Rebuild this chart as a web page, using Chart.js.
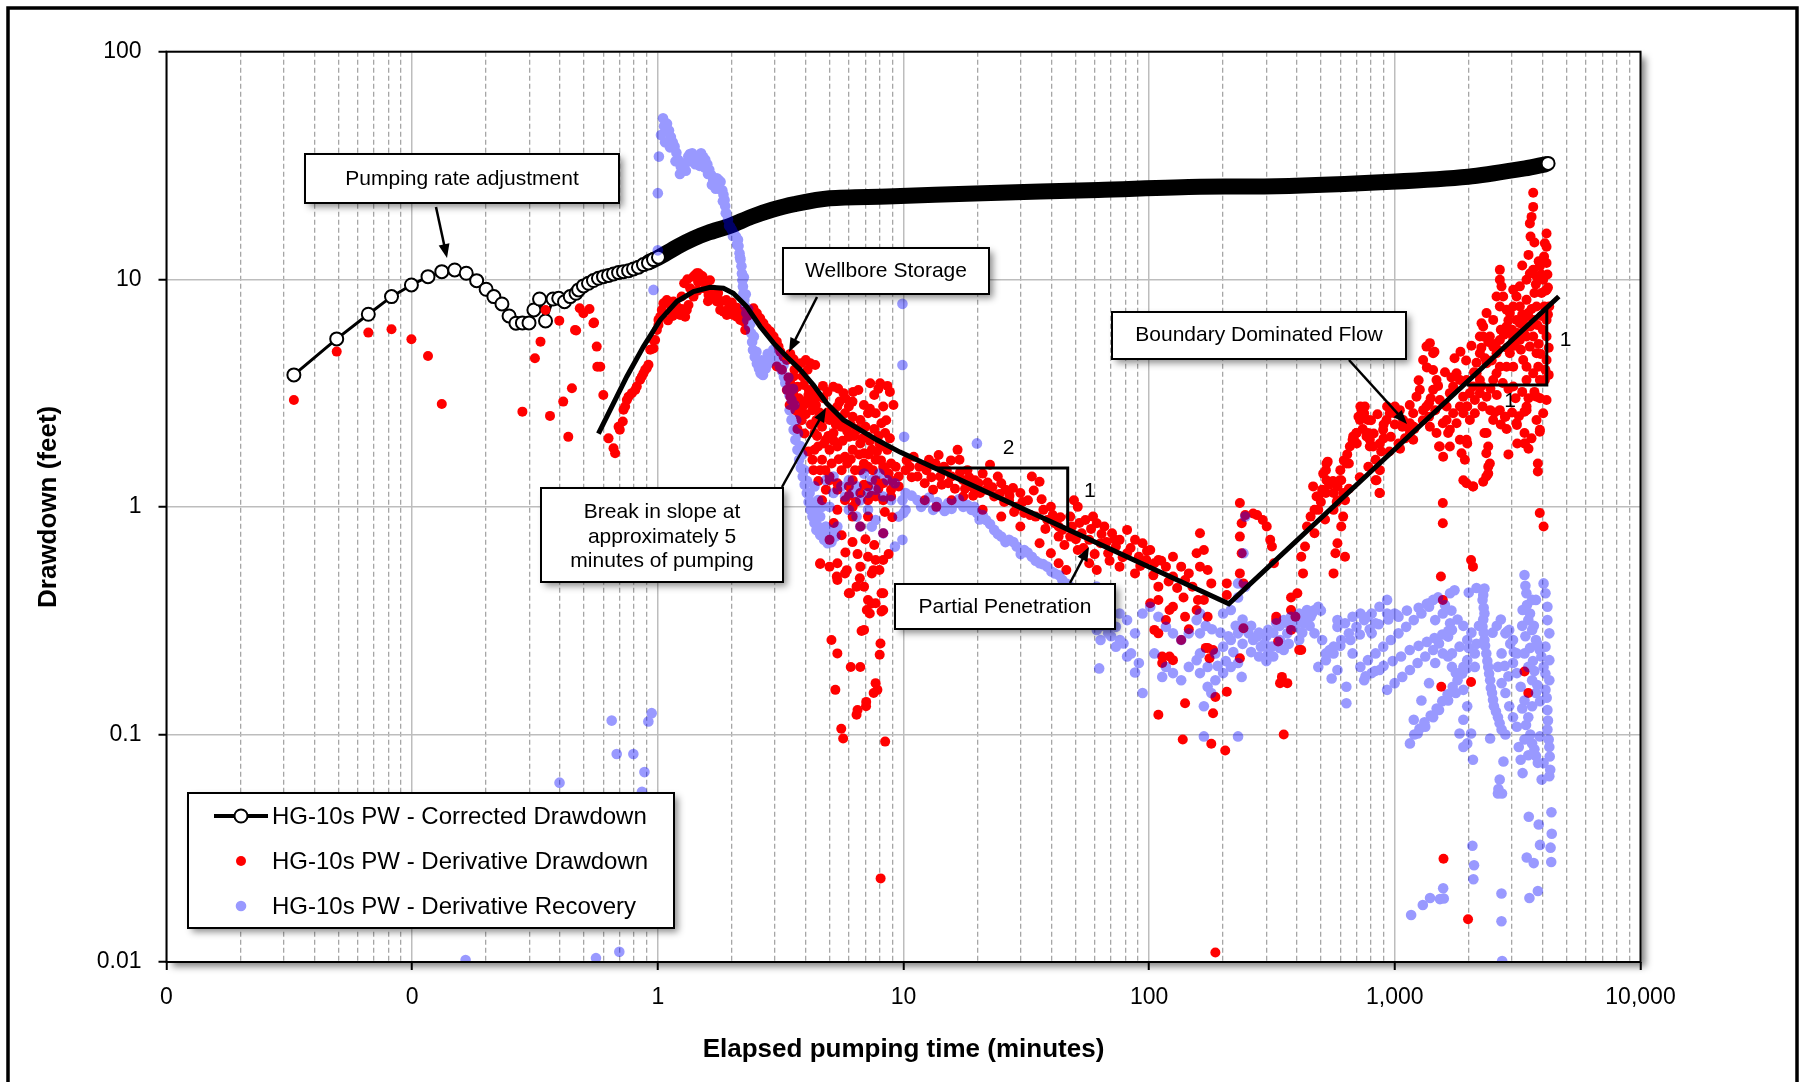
<!DOCTYPE html>
<html>
<head>
<meta charset="utf-8">
<script src="https://cdn.jsdelivr.net/npm/chart.js@4.4.1/dist/chart.umd.min.js"></script>
<style>html,body{margin:0;padding:0;background:#fff}canvas{display:block}</style>
</head>
<body>
<canvas id="chart" width="1800" height="1082"></canvas>
<script>
const FONT = '"Liberation Sans", Arial, sans-serif'

// axis ticks
const xMajor = [0.01, 0.1, 1, 10, 100, 1000, 10000]
const xMajorLabels = ['0', '0', '1', '10', '100', '1,000', '10,000']
const yMajor = [0.01, 0.1, 1, 10, 100]
const yMajorLabels = ['0.01', '0.1', '1', '10', '100']
const seriesNames = ['HG-10s PW - Corrected Drawdown', 'HG-10s PW - Derivative Drawdown', 'HG-10s PW - Derivative Recovery']

// [minutes, feet]
const corrected = [
  [0.033,3.80],[0.0493,5.47],[0.0663,7.02],[0.0824,8.39],[0.0993,9.44],[0.116,10.27],[0.132,10.8],[0.149,10.99],
  [0.166,10.63],[0.183,9.86],[0.200,9.04],[0.215,8.39],[0.232,7.79],[0.248,6.90],[0.2645,6.41],[0.281,6.43],
  [0.299,6.43],[0.313,7.33],[0.330,8.19],[0.349,6.56],[0.3745,8.19],[0.395,8.25],[0.417,7.97],[0.44,8.39],
  [0.4645,8.68],[0.476,8.98],[0.498,9.35],[0.522,9.6],[0.547,9.87],[0.573,10.1],[0.601,10.27],[0.63,10.4],
  [0.66,10.55],[0.692,10.7],[0.725,10.8],[0.76,10.9],[0.796,11.1],[0.834,11.3],[0.874,11.6],[0.916,11.8],
  [0.96,12.2],[1.006,12.5],[2,null],[4206,32.3]
]
// densely sampled part of the corrected drawdown (thousands of overlapping markers)
const correctedDense = [
  [0.92,11.9],[1.0,12.4],[1.2,13.9],[1.4,15.1],[1.6,16.0],[1.97,17.2],[2.4,18.8],[2.92,20.2],[3.6,21.4],
  [5.0,22.7],[8.57,23.1],[21,23.9],[62,24.7],[161,25.5],[330,25.6],[968,26.8],[1987,28.2],[3390,30.7],[4100,32.0]
]
const derivDrawdown = [
  [0.033,2.95],[0.0493,4.81],[0.0663,5.83],[0.0824,6.03],[0.0993,5.45],[0.116,4.6],[0.132,2.83],[0.281,2.62],
  [0.316,4.5],[0.333,5.32],[0.349,7.33],[0.364,2.51],[0.397,6.58],[0.412,2.9],[0.432,2.03],[0.447,3.32],[0.46,5.99],
  [0.465,5.95],[0.481,7.46],[0.498,7.09],[0.527,7.4],[0.547,6.41],[0.55,6.45],[0.564,5.06],[0.567,4.13],[0.583,4.13],[0.60,3.10],
  [0.63,2.0],[0.66,1.81],[0.67,1.72],[0.70,2.18],[0.72,2.37],[0.736,2.76],[0.76,3.05],[0.784,3.16],[0.821,3.38],
  [0.847,3.62],[0.874,3.86],[0.902,4.07],[0.916,4.21],[0.931,4.9],[0.96,5.41],[0.991,5.99],[1.006,6.63],[1.038,7.33],
  [1.054,7.85],[1.088,8.11],[1.123,7.71],[1.158,7.98],[1.195,7.58],[1.176,7.09],[1.233,6.97],[1.292,6.85],[1.312,7.33],
  [1.354,9.13],[1.375,8.68],[1.397,10.27],[1.441,10.63],[1.487,10.45],[1.534,9.93],[1.583,9.44],[1.608,8.53],[1.659,8.39],
  [1.712,8.25],[1.738,7.98],[1.794,7.33],[1.851,7.21],[1.909,6.97],[1.97,7.21],[2.033,6.97],[2.097,6.85],[2.164,6.63],
  [2.233,6.52],[2.268,5.99],[0.692,2.25],[0.725,2.67],[0.748,2.95],[0.809,3.26],[0.861,3.74],[0.888,4.0],[0.96,4.97],
  [0.975,5.41],[1.006,6.3],[1.022,6.85],[1.088,7.98],[1.333,7.71],[1.397,8.39],[1.418,10.45],[1.464,10.63],[1.738,8.39],[1.88,7.21],
  [1.25,8.4],[1.28,9.6],[1.32,10.0],[1.46,9.7],[1.52,10.3],[1.56,9.1],[1.63,9.9],[1.68,9.0],[1.76,8.7],[1.82,8.0],[1.95,7.6],
  [2.1,7.5],[2.2,7.2],[2.32,6.9],[1.1,6.6],[1.15,6.9],[1.25,7.4],[1.45,8.9],[1.6,8.0],[1.9,8.1],[2.0,7.9],
  [2.45,7.46],[2.53,7.09],[2.61,6.74],[2.69,6.41],[2.78,6.09],[2.87,5.89],[2.96,5.6],[3.05,5.32],[3.10,5.06],[3.15,4.81],
  [3.25,4.57],[3.35,4.42],[3.46,4.7],[3.57,4.45],[3.20,4.0],[3.05,4.14],[3.46,3.49],[3.57,3.74],[3.35,3.26],[3.46,3.05],
  [3.57,2.85],[3.70,2.67],[3.82,2.49],[3.82,4.28],[4.0,4.42],[4.17,4.28],[4.37,4.2],[4.07,4.0],[3.88,3.74],[3.70,3.37],
  [3.93,3.43],[4.12,3.26],[4.3,3.16],[4.5,3.05],[4.72,3.0],[5.18,3.37],[5.42,3.31],[5.7,3.16],[6.24,3.2],[6.55,3.26],
  [7.32,3.49],[8.03,3.49],
  [3.44,2.80],[3.63,2.66],[3.76,2.58],[3.89,2.76],[4.04,2.85],[4.26,2.66],[4.42,2.41],[4.34,2.11],[4.66,2.25],[5.0,2.41],
  [5.19,2.66],[5.38,2.76],[5.78,2.58],[5.99,2.76],[6.21,2.49],[6.67,2.41],[7.17,2.58],[7.7,2.58],[8.27,2.76],[8.13,2.33],
  [8.42,2.11],[7.98,1.90],[7.17,2.03],[6.67,1.90],[6.21,1.78],[5.78,1.66],[5.38,1.84],[5.0,1.78],[4.66,1.61],[4.58,1.45],
  [5.0,1.36],[5.38,1.27],[4.83,1.19],[4.66,1.07],[5.78,1.07],[6.21,1.0],[7.17,1.07],[7.7,1.11],[8.27,1.07],[8.9,1.11],
  [9.56,1.23],[10.2,1.45],[8.27,1.50],[7.17,1.50],[6.67,1.45],[6.21,1.31],[5.0,0.716],[5.38,0.565],[5.78,0.51],[5.38,0.477],
  [5.99,0.417],[6.67,0.546],[7.17,0.604],[7.7,0.584],[8.27,0.584],[6.91,0.446],[7.43,0.51],[7.98,0.528],[7.17,0.39],
  [7.7,0.377],[8.27,0.417],[8.27,0.352],[7.29,0.34],[6.91,0.288],[5.09,0.26],[5.38,0.227],[6.1,0.198],[6.67,0.198],
  [5.28,0.157],[7.7,0.168],[7.83,0.157],[7.56,0.152],[7.04,0.133],[6.44,0.122],[5.58,0.106],[5.68,0.096],[8.42,0.093],
  [5.0,0.546],[4.58,0.565],[8.07,0.0233],
  [5.0,1.31],[5.38,1.19],[5.99,1.23],[6.67,1.15],[7.17,1.23],[7.7,1.31],[8.27,1.27],[8.9,1.19],[6.21,0.906],[7.17,0.906],
  [8.27,0.765],[6.67,0.819],[5.38,0.97],[4.49,1.84],[4.83,1.97],[5.19,2.11],[5.58,2.25],[5.99,2.03],[6.44,2.18],[6.91,1.72],
  [7.43,1.78],[7.7,1.61],[8.59,1.78],[8.9,1.55],[9.56,1.36],[4.26,1.61],[4.34,1.78],
  [6.75,0.285],[8.06,0.251],[8.0,0.224],[6.5,0.128],[7.05,0.139],[4.58,0.561],[5.35,0.494],[5.88,0.527],[6.06,0.417],
  [6.44,0.446],[6.64,0.486],[7.09,0.352],[7.42,0.376],[7.54,0.527],[8.14,0.417],[8.14,0.347],
  [3.6,3.3],[3.75,3.0],[3.9,2.9],[4.1,3.1],[4.25,2.95],[4.4,2.8],[4.55,2.6],[4.7,2.45],[4.9,2.6],[5.1,2.5],[5.3,2.3],[5.5,2.45],
  [5.7,2.3],[5.9,2.15],[6.1,2.3],[6.3,2.05],[6.5,2.2],[6.8,2.0],[7.0,2.25],[7.3,1.95],[7.6,2.2],[7.9,2.05],[8.2,1.85],[8.5,2.4],
  [8.8,2.0],[4.2,2.3],[4.45,2.05],[4.75,1.9],[4.95,2.05],[5.2,1.95],[5.45,1.62],[5.65,1.95],[5.9,1.55],[6.1,1.62],[6.35,1.45],
  [6.6,1.7],[6.9,1.55],[7.2,1.7],[7.5,1.45],[7.8,1.75],[8.1,1.6],[8.4,1.45],[8.7,1.4],[9.0,1.3],[9.3,1.5],[4.3,1.45],[4.5,1.3],
  [4.8,1.45],[5.1,1.55],[5.6,1.45],[6.0,1.12],[6.4,1.05],[6.9,1.25],[7.4,1.12],[7.9,1.2],[8.4,0.95],[9.0,0.9],[4.1,1.75],
  [3.95,2.1],[3.85,2.4],[3.7,2.2],[4.0,2.55],[3.55,3.15],[8.6,3.4],[8.8,3.2],[9.1,2.8],[7.6,3.1],[7.9,3.3],[6.9,2.8],[7.3,2.7],
  [6.2,2.9],[5.8,3.0],[5.5,2.9],[4.9,3.2],[3.4,3.7],[3.6,4.0],[4.7,3.4],[5.2,0.85],[5.6,0.75],[6.2,0.7],[7.0,0.72],[7.6,0.68],
  [8.7,0.62],[6.5,0.62],[5.8,0.63],
  [10.6,1.50],[11.4,1.36],[12.2,1.27],[13.2,1.19],[13.9,1.69],[14.6,1.50],[15.7,1.36],[16.6,1.78],[16.9,1.61],[18.2,1.45],
  [19.5,1.31],[21.0,1.40],[22.5,1.53],[24.2,1.36],[25.0,1.27],[26.0,1.19],[27.9,1.21],[29.9,1.15],[32.1,1.07],[33.3,1.36],
  [35.8,1.29],[37.1,0.97],[39.8,1.0],[41.3,0.847],[44.3,0.792],[47.7,0.906],[49.4,1.07],[51.2,1.0],[55.0,0.876],[59.1,0.906],
  [61.2,0.847],[65.7,0.819],[70.6,0.765],[75.8,0.716],[81.3,0.792],[87.6,0.716],[94.0,0.692],[101,0.646],[109,0.584],
  [117,0.546],[125,0.604],[135,0.546],[145,0.51],[156,0.625],
  [12.2,1.07],[13.6,1.0],[15.7,1.07],[17.5,1.11],[19.5,1.15],[21.0,0.97],[25.0,0.906],[29.9,0.819],[35.8,0.692],[42.8,0.74],
  [39.8,0.625],[42.8,0.565],[46.0,0.528],[51.2,0.646],[57.0,0.565],[61.2,0.528],[68.1,0.625],[75.8,0.546],[87.6,0.51],
  [97.4,0.584],[109,0.446],[125,0.364],[140,0.329],[156,0.352],[117,0.318],[109,0.278],[113,0.22],[121,0.22],[140,0.137],
  [109,0.122],[137,0.095],[101,0.377],[105,0.288],
  [11.0,1.66],[12.7,1.61],[14.1,1.36],[15.2,1.27],[17.5,1.31],[18.9,1.23],[20.2,1.27],[21.7,1.19],[23.4,1.11],[26.9,1.07],
  [28.9,1.0],[31.0,0.94],[34.5,0.906],[38.5,0.876],[42.8,0.819],[47.7,0.74],[53.1,0.765],[57.0,0.716],[63.4,0.692],
  [73.2,0.669],[81.3,0.625],[90.8,0.604],[105,0.565],[125,0.494],[140,0.477],[150,0.446],[158,0.39],
  [10.3,1.6],[10.8,1.35],[11.6,1.5],[12.4,1.45],[13.0,1.35],[13.5,1.55],[14.3,1.25],[15.0,1.45],[15.6,1.6],[16.2,1.2],
  [17.0,1.42],[17.8,1.2],[18.5,1.35],[19.2,1.12],[20.5,1.15],[22.0,1.28],[23.0,1.22],[24.6,1.14],[25.7,1.05],[27.0,1.12],
  [28.2,0.95],[30.5,1.05],[32.8,0.92],[33.9,1.18],[36.5,1.08],[37.8,0.8],[40.5,0.92],[43.5,0.9],[45.2,0.68],[48.5,0.82],
  [50.3,0.72],[52.0,0.85],[54.0,0.66],[58.0,0.8],[60.0,0.62],[64.0,0.76],[67.0,0.7],[69.0,0.58],[72.0,0.72],[78.0,0.6],
  [84.0,0.66],[92.0,0.55],[98.0,0.64],[104,0.5],[112,0.58],[120,0.47],[130,0.44],[138,0.4],
  [109,0.39],[121,0.352],[135,0.26],[113,0.206],[125,0.212],[145,0.29],
  [161,0.765],[167,0.646],[173,0.528],[179,0.461],[167,0.39],[173,0.329],[182,0.235],[186,0.146],[182,0.124],[179,0.091],
  [204,0.085],[207,0.461],[207,0.41],[173,0.24],[161,0.546],[186,0.011],
  [234,1.04],[238,0.847],[246,0.92],[265,0.935],[275,0.92],[290,0.876],[301,0.819],[311,0.716],[316,0.669],[234,0.74],
  [238,0.625],[234,0.51],[242,0.461],[322,0.565],[329,0.329],[347,0.179],[341,0.168],[365,0.168],[353,0.1],[378,0.352],
  [394,0.329],[408,0.235],[378,0.40],[401,0.417],[329,0.318],
  [416,0.604],[423,0.51],[431,0.669],[439,0.819],[454,0.906],[471,0.97],[488,1.11],[506,1.19],[524,1.45],[533,1.58],
  [563,0.51],[573,0.625],[584,0.692],[605,0.819],[616,0.906],[627,1.07],[627,0.604],[584,1.23],[605,1.31],[650,1.55],
  [673,1.97],[698,2.11],[711,2.49],[724,2.76],[750,2.58],[777,2.41],[777,2.11],[791,1.84],[835,1.61],[835,1.31],[866,1.15],
  [524,1.15],[488,0.97],[471,0.765],[563,0.97],[563,1.15],[584,1.07],
  [560,1.3],[600,1.45],[640,1.7],[700,1.9],[740,2.2],[800,2.4],[850,2.55],[900,2.3],[500,1.05],[540,1.25],[620,1.6],
  [680,2.0],[820,2.1],[880,1.75],[520,0.88],[580,1.05],[650,1.2],[720,1.35],[780,1.5],
  [242,0.293],[378,0.288],[335,0.256],[170,0.24],[176,0.216],[207,0.154],[234,0.216],[3371,0.189],[3494,0.152],[416,0.235],
  [930,2.76],[998,2.58],[1072,2.25],[1152,2.11],[963,2.03],[1035,1.90],[1194,2.25],[1378,2.49],[1460,2.66],[1568,2.33],
  [1648,2.11],[1513,1.84],[1378,2.85],[1971,2.76],[2117,2.58],[2275,2.76],[2443,2.66],[2316,2.11],[2357,1.72],[2400,1.50],
  [2357,1.36],[1971,1.90],[1901,1.31],[2080,1.23],[1568,1.04],[1568,0.847],[1540,0.494],[1568,0.39],[2043,0.584],[2080,0.546],
  [1545,0.162],[2043,0.17],[2819,2.49],[3139,2.29],[3371,2.62],[3371,1.90],[3890,2.14],[3821,1.55],[3821,1.43],[3890,0.94],
  [4032,0.82],[3371,2.11],[1578,0.0284],[1986,0.0154],
  [465,1.23],[480,1.11],[511,1.40],[527,1.55],[527,1.31],[597,1.31],[616,1.15],[636,1.55],[656,1.84],[677,2.04],[698,2.11],
  [732,2.66],[755,2.76],[721,2.41],[767,2.04],[791,1.97],[816,1.84],[869,1.90],[869,1.45],[842,1.31],[869,1.15],[896,2.18],
  [925,2.41],[954,2.58],[1000,2.76],[1048,2.66],[1081,2.41],[1115,2.25],[1151,2.33],[1188,1.97],[1188,2.58],[1225,3.05],
  [1264,3.27],[1304,2.66],[1345,2.76],[1304,4.42],[1345,5.06],[1389,5.24],[1432,4.73],[1432,3.99],[1478,3.61],[1432,3.27],
  [1389,2.25],[1478,2.11],[1524,1.84],[1573,1.66],[1524,2.95],[1624,2.76],[1675,3.16],[1728,3.38],[1783,3.86],[1840,3.61],
  [1898,3.05],[1898,2.58],[1958,2.76],[2020,2.41],[1958,1.97],[1958,1.27],[2084,1.23],[2020,3.16],[2084,3.38],[2151,3.86],
  [2219,4.73],[2219,5.6],[2289,6.2],[2254,6.41],[2362,7.10],[2437,5.6],[2514,5.06],[2594,4.73],[2676,5.41],[2676,7.59],
  [2676,9.95],[2676,11.0],[2761,8.4],[2849,6.2],[2939,7.10],[3033,9.0],[3129,8.4],[3228,9.31],[3228,7.59],[3331,6.63],
  [3436,8.12],[3436,9.95],[3546,10.6],[3658,11.0],[3774,10.3],[3894,11.4],[4017,9.95],[4145,11.8],[4145,13.9],[4145,15.9],
  [4080,14.4],[3658,24.0],[3658,20.8],[3602,18.8],[3546,17.6],[3568,15.4],[4250,7.59],[4145,6.63],[4145,5.6],[4145,4.42],
  [4080,3.61],[4145,2.95],[4017,2.58],[3894,2.18],[3774,2.41],[3436,2.76],[3436,2.66],[3129,2.33],[3383,1.90],[2805,2.49],
  [2676,2.66],[2514,2.41],[2362,2.11],[2400,1.84],[2437,1.55],[2400,1.40],[2289,1.29],[3436,3.61],[3033,3.38],[3033,4.13],
  [2939,4.73],[2676,4.13],[2514,3.61],[2362,3.05],[2219,3.61],[3658,5.6],[3774,4.73],[3834,4.13],[3894,3.61],[3658,6.63],
  [3546,5.06],[3228,5.41],[3033,5.41],[2849,4.13],[2594,3.86],[3129,6.63],[2939,5.79],[3331,4.42],[3436,4.13],[3774,7.59],
  [3955,6.9],[3955,8.7],[3436,5.6],[3491,7.10],[3658,3.86],[3774,3.05],[2289,5.6],[2362,4.28],[2514,6.63],[2594,8.4],
  [2718,9.31],[2849,7.35],[3033,7.59],[3228,6.41],[3331,5.79],[2219,3.16],[2117,2.95],[1958,3.61],[1840,2.76],[1728,2.58],
  [1624,2.41],[1675,2.18],[1783,2.33],[1675,1.84],[1840,1.97],[1869,1.72],[1928,1.61],
  [2150,4.3],[2250,5.0],[2330,4.5],[2400,5.3],[2480,4.4],[2560,5.2],[2630,4.9],[2700,6.0],[2780,5.7],[2860,5.0],[2900,6.6],
  [3000,6.0],[3080,5.1],[3150,5.8],[3260,4.9],[3300,7.0],[3380,6.1],[3480,6.9],[3560,6.2],[3600,7.4],[3700,8.7],[3800,6.3],
  [3850,5.2],[3920,4.7],[4000,6.0],[4060,7.6],[4100,8.9],[4180,10.5],[4200,9.2],[2250,3.4],[2450,3.3],[2600,3.1],[2750,3.5],
  [2900,3.3],[3100,3.0],[3300,3.2],[3500,3.0],[3700,3.2],[3900,3.0],[2550,2.6],[2700,2.3],[2850,2.2],[3000,2.6],[3200,2.5],
  [1750,4.5],[1850,4.8],[1950,4.4],[2050,5.1],[2100,3.9],[1600,3.9],[1700,3.7],[1500,3.4],[1400,3.0],[1300,2.4],[1200,2.2],
  [1100,2.0],[1050,1.8],[950,1.75],[900,2.0],[1000,2.3],[1150,2.8],[1250,3.6],[1350,4.1],[1450,4.8],[3300,11.5],[3500,12.8],
  [3700,14.5],[3750,9.5],[3850,12.0],[3950,10.5],[4050,12.6],[4150,9.0],[4200,7.0],[4230,5.0],[4230,3.8],[4100,4.0],
  [3600,2.0],[3500,1.8],[3150,1.9],[2900,1.7]
]
const derivRecovery = [
  [0.165,0.0102],[0.56,0.0104],[0.697,0.0111],[0.398,0.0614],[0.862,0.056],[0.649,0.115],[0.915,0.114],[0.944,0.124],
  [0.68,0.082],[0.795,0.082],[0.882,0.0683],[1.0,13.4],[0.96,8.98],[9.9,7.8],[9.9,4.2],[10.06,2.03],[19.9,1.90],
  [1.05,51],[1.09,48.3],[1.03,43.0],[1.01,34.6],[1.0,23.9],[1.13,42.2],[1.17,38.3],[1.21,33.5],[1.24,31.3],[1.28,30.3],
  [1.33,34.6],[1.38,35.8],[1.45,33.5],[1.50,35.8],[1.56,33.5],[1.62,30.3],[1.68,27.3],[1.74,27.8],[1.80,26.8],[1.83,24.6],
  [1.87,22.3],[1.90,19.5],[1.97,17.0],[2.04,15.9],[2.12,14.9],[2.15,13.0],[2.19,11.4],[2.21,9.9],[2.23,8.67],[2.27,7.6],
  [2.31,6.6],[2.40,5.79],[2.44,4.89],[2.53,4.27],[2.62,3.86],[2.82,4.27],[3.03,4.57],[3.14,4.13],[3.26,3.73],[3.37,3.26],[3.50,2.95],
  [1.06,47],[1.11,45],[1.15,40],[1.19,36],[1.26,31],[1.30,32.5],[1.35,35.5],[1.41,34.5],[1.47,34.8],[1.53,34.5],[1.59,32],
  [1.65,28.7],[1.71,27.5],[1.77,27.3],[1.85,23.5],[1.88,21],[1.93,18.3],[2.0,16.5],[2.08,15.4],[2.13,14],[2.17,12.2],
  [2.20,10.6],[2.22,9.3],[2.25,8.1],[2.29,7.1],[2.35,6.2],[2.42,5.3],[2.48,4.55],[2.58,4.05],[2.7,4.0],[2.92,4.4],[3.08,4.35],
  [3.2,3.95],[3.3,3.5],[3.43,3.1],[2.68,3.8],[2.75,4.05],
  [1.07,40],[1.12,38],[1.18,33],[1.23,29],[1.3,30],[1.36,33],[1.42,32],[1.48,31.5],[1.55,31],[1.6,29],[1.66,26],[1.72,25],
  [1.78,25],[1.84,22],[1.89,19.5],[1.95,17.2],[2.02,15.5],[2.1,14.2],[2.16,12.5],[2.24,10.2],[2.28,8.6],[2.33,7.4],[2.38,6.4],
  [2.46,5.6],[2.52,4.8],[2.64,4.4],[2.8,4.7],[2.95,4.9],[3.1,4.7],[3.25,4.2],[3.4,3.7],[3.55,3.3],[3.6,2.8],[3.66,2.4],
  [3.72,2.1],[3.8,1.85],[3.87,1.7],[3.95,1.45],[4.05,1.3],[4.15,1.15],[4.22,1.05],[4.3,0.97],[4.4,0.88],[4.5,0.82],[4.62,0.78],
  [4.7,0.8],[4.85,0.75],[5.0,0.74],[5.15,0.76],
  [3.44,2.66],[3.57,2.18],[3.63,1.97],[3.70,1.78],[3.76,1.61],[3.82,1.48],[3.89,1.36],[3.96,1.25],[4.04,1.15],[4.11,1.05],
  [4.18,0.97],[4.26,0.906],[4.34,0.85],[4.42,0.792],[4.58,0.752],[4.75,0.716],[4.91,0.692],[5.09,0.70],[5.28,0.74],[4.42,0.97],
  [4.58,0.906],[4.83,0.819],[4.49,1.07],[4.34,1.23],[4.66,1.0],[5.0,0.792],[5.38,0.819],[5.0,1.0],[5.19,1.15],[3.50,2.41],
  [4.83,1.31],[5.19,1.36],[5.58,1.23],[5.99,1.31],[6.44,1.23],[6.91,1.40],[7.43,1.31],[7.98,1.40],[8.59,1.31],[9.23,1.27],
  [5.78,1.11],[6.21,1.15],[6.67,1.07],[7.17,1.15],[7.7,1.19],[8.27,1.11],[8.9,1.07],[5.99,0.97],[6.44,0.906],[7.17,0.97],
  [7.7,0.876],[8.27,0.765],[6.67,0.819],[7.43,0.819],[9.9,1.07],[10.2,0.97],[9.56,0.906],[10,0.94],[9.23,0.669],[9.9,0.716],[10.2,1.15],
  [11.4,1.07],[12.2,1.04],[13.2,0.97],[14.1,1.0],[15.2,1.04],[16.3,1.04],[17.5,1.0],[18.9,0.97],[19.9,0.94],[21.0,0.92],
  [21.7,0.876],[23.4,0.792],[25.0,0.74],[26.9,0.716],[28.9,0.669],[31.0,0.646],[33.3,0.604],[35.8,0.565],[38.5,0.546],
  [41.3,0.51],[44.3,0.477],[47.7,0.446],[51.2,0.417],[55.0,0.39],[59.1,0.34],[61.2,0.288],[63.4,0.26],[68.1,0.278],
  [73.2,0.243],[78.6,0.251],[84.4,0.227],[90.8,0.206],[94.0,0.152],[87.6,0.187],[62.6,0.195],
  [10.8,1.12],[11.8,1.0],[12.7,1.1],[13.7,1.05],[14.7,0.96],[15.7,0.98],[16.8,1.08],[18.2,1.02],[19.4,1.0],[20.4,0.88],
  [22.5,0.84],[24.2,0.76],[26,0.7],[28,0.7],[30,0.62],[32,0.63],[34.5,0.58],[37,0.56],[40,0.52],[43,0.5],[46,0.46],[49,0.43],
  [53,0.4],[57,0.37],[60,0.36],[65,0.3],[70,0.27],[76,0.26],
  [75.8,0.34],[81.3,0.318],[87.6,0.278],[94.0,0.34],[101,0.364],[109,0.329],[117,0.297],[125,0.278],[135,0.26],[145,0.278],
  [156,0.318],[105,0.227],[117,0.198],[125,0.186],[135,0.173],[145,0.198],[156,0.212],[113,0.179],[81.3,0.22],[73.2,0.297],
  [68.1,0.329],[61.2,0.446],
  [161,0.34],[161,0.278],[161,0.227],[161,0.186],[173,0.198],[186,0.227],[200,0.243],[215,0.26],[230,0.278],[246,0.297],
  [173,0.162],[186,0.173],[200,0.186],[215,0.198],[230,0.206],[238,0.179],[167,0.133],[179,0.152],[167,0.098],[230,0.098],
  [200,0.34],[215,0.352],[230,0.40],[246,0.446],[230,0.461],[242,0.625],[246,0.906],
  [170,0.3],[180,0.29],[195,0.28],[210,0.27],[225,0.3],[240,0.32],[260,0.3],[280,0.28],[300,0.27],[320,0.28],[340,0.3],
  [360,0.31],[380,0.3],[400,0.32],[430,0.33],[460,0.34],[500,0.35],[190,0.2],[205,0.21],[220,0.23],[240,0.25],[260,0.23],
  [280,0.22],[300,0.21],[320,0.22],[340,0.24],[370,0.25],[420,0.28],[450,0.3],
  [254,0.278],[275,0.269],[295,0.251],[316,0.243],[341,0.26],[365,0.278],[394,0.297],[423,0.308],[454,0.329],[471,0.352],
  [488,0.364],[265,0.26],[305,0.288],[329,0.308],[353,0.318],[378,0.329],[408,0.34],[439,0.352],[285,0.243],[305,0.227],
  [353,0.235],[408,0.26],[471,0.278],[506,0.26],[488,0.198],[524,0.212],[563,0.227],[553,0.176],[635,0.162],[635,0.137],[584,0.192],
  [524,0.227],[563,0.243],[605,0.26],[650,0.278],[698,0.297],[750,0.318],[805,0.34],[866,0.364],[930,0.39],[998,0.34],
  [1035,0.329],[584,0.297],[627,0.308],[673,0.329],[724,0.34],[777,0.329],[584,0.318],[724,0.198],[777,0.212],[835,0.227],
  [897,0.243],[963,0.26],[1035,0.278],[1112,0.297],[1194,0.318],[1283,0.34],[1378,0.364],[1432,0.39],[750,0.173],[805,0.186],
  [866,0.192],[930,0.157],[998,0.168],[1072,0.179],[1152,0.192],[1238,0.206],[1330,0.22],[1432,0.235],[1513,0.251],
  [1648,0.269],[1708,0.288],[1568,0.227],[1460,0.206],[1378,0.168],[1283,0.141],[1194,0.116],[1152,0.0913],[1238,0.101],
  [1330,0.108],[1432,0.119],[1513,0.128],[1648,0.141],[1771,0.152],[1901,0.157],[1771,0.186],[1901,0.198],[1708,0.227],
  [1834,0.243],[1971,0.26],[2117,0.227],[1460,0.318],[1568,0.34],[1678,0.308],[1378,0.377],[930,0.34],[835,0.308],[805,0.278],
  [543,0.235],[673,0.227],
  [540,0.23],[600,0.245],[660,0.26],[720,0.275],[790,0.29],[860,0.305],[940,0.32],[1020,0.335],[1120,0.35],[1250,0.36],
  [1350,0.375],[760,0.18],[830,0.19],[900,0.2],[980,0.21],[1060,0.22],[1150,0.235],[1250,0.245],[1350,0.255],[1450,0.265],
  [1560,0.275],[1650,0.285],[1200,0.1],[1260,0.106],[1320,0.113],[1400,0.121],[1480,0.13],[1560,0.14],[1640,0.15],
  [1720,0.162],[1800,0.173],[1880,0.185],[1960,0.195],
  [1678,0.417],[2316,0.438],[2275,0.39],[2316,0.34],[2275,0.297],[2316,0.26],[2357,0.227],[2400,0.198],[2443,0.173],
  [2487,0.152],[2531,0.133],[2629,0.119],[2720,0.105],[2819,0.10],[2043,0.101],[1971,0.0913],[2080,0.0774],[1901,0.088],
  [2443,0.096],[2768,0.076],[2672,0.0633],[2629,0.055],[2117,0.198],[1971,0.212],[1834,0.186],[2819,0.278],[2922,0.288],
  [3027,0.26],[3139,0.227],[2720,0.227],[2629,0.198],[2720,0.168],[2819,0.152],[2922,0.133],[3027,0.119],[3139,0.108],
  [3195,0.088],[3253,0.0774],[3312,0.0676],[3371,0.095],[3494,0.081],[3621,0.0913],[3753,0.0803],[3890,0.098],[3960,0.0633],
  [4255,0.0655],[4032,0.0748],[4255,0.088],[4179,0.105],[3371,0.502],[3432,0.417],[3621,0.39],[3753,0.39],[3312,0.352],
  [3494,0.318],[3621,0.288],[3753,0.26],[3890,0.235],[4032,0.198],[4105,0.157],[4179,0.128],[4032,0.461],[4105,0.417],
  [4179,0.364],[4179,0.318],[4255,0.278],[4105,0.243],[4255,0.212],[4255,0.173],[3371,0.227],[3494,0.198],[3621,0.173],
  [3753,0.152],[3621,0.133],[3494,0.119],[3371,0.141],[3253,0.162],[3139,0.186],[3027,0.206],[2870,0.283],[1971,0.133],
  [1901,0.116],[1834,0.101],[1648,0.22],[1708,0.198],
  [2290,0.41],[2300,0.36],[2290,0.32],[2300,0.28],[2330,0.245],[2380,0.21],[2420,0.185],[2460,0.16],[2510,0.142],[2580,0.126],
  [2670,0.112],[3400,0.45],[3450,0.37],[3550,0.34],[3680,0.3],[3800,0.25],[3950,0.22],[4100,0.185],[4150,0.145],[4200,0.115],
  [4230,0.095],[4270,0.08],[4290,0.07],[3300,0.3],[3400,0.27],[3550,0.24],[3650,0.21],[3700,0.19],[3800,0.165],[3900,0.14],
  [3300,0.13],[3420,0.11],[3560,0.1],[3700,0.086],[3820,0.075],[2950,0.25],[3050,0.23],[2800,0.2],[2900,0.18],[2700,0.32],
  [2600,0.3],[2500,0.28],[2000,0.24],[2150,0.25],[2050,0.28],[2200,0.3],[1900,0.3],[1800,0.32],[1700,0.35],[1600,0.37],
  [1500,0.4],[2000,0.42],[2150,0.44],[1750,0.43],
  [1165,0.0161],[1300,0.0178],[1391,0.0191],[1526,0.0189],[1573,0.0211],[1582,0.019],[2069,0.0324],[2101,0.0266],
  [2088,0.0231],[2717,0.02],[2717,0.0151],[2734,0.0101],[2640,0.0575],[2730,0.055],[3509,0.0435],[3852,0.0402],[3898,0.0327],
  [3443,0.0288],[3676,0.0272],[3822,0.0205],[3531,0.0191],[4339,0.0455],[4352,0.0366],[4305,0.0318],[4331,0.0275]
]
// interpreted flow-regime line and slope triangles
const fitCurve = [
  [0.573,2.1],[0.64,2.67],[0.748,3.74],[0.874,5.06],[1.022,6.63],[1.195,7.98],[1.397,8.83],[1.633,9.22],[1.85,9.13],
  [2.03,8.68],[2.30,7.58],[2.61,6.2],[2.96,5.24],[3.35,4.57],[3.80,4.0],[4.30,3.43],[4.87,2.85],[5.70,2.41],[6.66,2.18],
  [7.78,1.97],[9.68,1.74],[211,0.375],[4650,8.4]
]
const slopeHalf = [[13,1.48],[46.6,1.48],[46.6,0.80]]
const slopeUnit = [[1963,3.43],[4155,3.43],[4155,7.4]]
const slopeLabels = [['2',26.8,1.81],['1',57.4,1.166],['1',2946,2.90],['1',4955,5.41]]

const pts = a => a.map(p => ({x: p[0], y: p[1]}))
const xTicks = []
xMajor.forEach((d, i) => { xTicks.push(d); if (i < xMajor.length - 1) for (let m = 2; m < 10; m++) xTicks.push(+(d * m).toPrecision(3)) })
const isMajor = c => c.tick && xMajor.includes(c.tick.value)

// blue series is drawn as one layer then faded, like the spreadsheet's transparent markers
let offCanvas = null
const groupAlpha = {
  id: 'groupAlpha',
  beforeDatasetDraw(chart, args) {
    if (chart.data.datasets[args.index].layerAlpha === undefined) return
    offCanvas = document.createElement('canvas')
    offCanvas.width = chart.canvas.width; offCanvas.height = chart.canvas.height
    args.meta.controller._ctx = offCanvas.getContext('2d')
  },
  afterDatasetDraw(chart, args) {
    const ds = chart.data.datasets[args.index]
    if (ds.layerAlpha === undefined) return
    args.meta.controller._ctx = chart.ctx
    const a = chart.chartArea, ctx = chart.ctx, w = a.right - a.left, h = a.bottom - a.top
    ctx.save(); ctx.globalAlpha = ds.layerAlpha
    ctx.drawImage(offCanvas, a.left, a.top, w, h, a.left, a.top, w, h)
    ctx.restore()
  }
}

function shadowBox(ctx, x, y, w, h) {
  ctx.save()
  ctx.shadowColor = 'rgba(0,0,0,0.45)'; ctx.shadowBlur = 7; ctx.shadowOffsetX = 4; ctx.shadowOffsetY = 4
  ctx.fillStyle = '#fff'; ctx.fillRect(x, y, w, h)
  ctx.restore()
  ctx.lineWidth = 2; ctx.strokeStyle = '#000'; ctx.strokeRect(x, y, w, h)
}
function arrow(ctx, x1, y1, x2, y2) {
  const ang = Math.atan2(y2 - y1, x2 - x1), L = 14, W = 5.5
  ctx.save(); ctx.strokeStyle = '#000'; ctx.fillStyle = '#000'; ctx.lineWidth = 2.5
  ctx.beginPath(); ctx.moveTo(x1, y1); ctx.lineTo(x2 - Math.cos(ang) * L * 0.8, y2 - Math.sin(ang) * L * 0.8); ctx.stroke()
  ctx.beginPath(); ctx.moveTo(x2, y2)
  ctx.lineTo(x2 - Math.cos(ang) * L - Math.sin(ang) * W, y2 - Math.sin(ang) * L + Math.cos(ang) * W)
  ctx.lineTo(x2 - Math.cos(ang) * L + Math.sin(ang) * W, y2 - Math.sin(ang) * L - Math.cos(ang) * W)
  ctx.closePath(); ctx.fill(); ctx.restore()
}

const frame = {
  id: 'frame',
  beforeDraw(chart) {
    const {ctx, chartArea: a} = chart
    ctx.save()
    ctx.fillStyle = '#fff'; ctx.fillRect(0, 0, chart.width, chart.height)
    ctx.lineWidth = 3.5; ctx.strokeStyle = '#000'; ctx.strokeRect(8, 8, 1789, 1100)
    ctx.shadowColor = 'rgba(0,0,0,0.5)'; ctx.shadowBlur = 7; ctx.shadowOffsetX = 5; ctx.shadowOffsetY = 5
    ctx.fillStyle = '#fff'; ctx.fillRect(a.left, a.top, a.right - a.left, a.bottom - a.top)
    ctx.restore()
  },
  afterDatasetsDraw(chart) {
    const {ctx, chartArea: a} = chart
    ctx.save(); ctx.lineWidth = 2; ctx.strokeStyle = '#000'
    ctx.strokeRect(a.left, a.top, a.right - a.left, a.bottom - a.top)
    ctx.restore()
  },
  afterDraw(chart) {
    const ctx = chart.ctx, xs = chart.scales.x, ys = chart.scales.y
    ctx.save()
    ctx.font = '21px ' + FONT; ctx.fillStyle = '#000'; ctx.textAlign = 'center'; ctx.textBaseline = 'middle'
    slopeLabels.forEach(([t, x, y]) => ctx.fillText(t, xs.getPixelForValue(x), ys.getPixelForValue(y)))

    shadowBox(ctx, 305, 154, 314, 49); ctx.fillText('Pumping rate adjustment', 462, 179)
    arrow(ctx, 436, 207, 447, 258)
    shadowBox(ctx, 783, 248, 206, 46); ctx.fillText('Wellbore Storage', 886, 271)
    arrow(ctx, 817, 297, 789, 352)
    shadowBox(ctx, 1112, 312, 294, 47); ctx.fillText('Boundary Dominated Flow', 1259, 335)
    arrow(ctx, 1349, 360, 1407, 424)
    shadowBox(ctx, 541, 488, 242, 94)
    ctx.fillText('Break in slope at', 662, 512); ctx.fillText('approximately 5', 662, 537); ctx.fillText('minutes of pumping', 662, 561)
    arrow(ctx, 782, 487, 826, 408)
    shadowBox(ctx, 895, 584, 220, 45); ctx.fillText('Partial Penetration', 1005, 607)
    arrow(ctx, 1070, 583, 1089, 547)

    // legend
    shadowBox(ctx, 188, 793, 486, 135)
    ctx.textAlign = 'left'; ctx.font = '24px ' + FONT
    const rows = [816, 861, 906]
    ctx.lineWidth = 4; ctx.strokeStyle = '#000'
    ctx.beginPath(); ctx.moveTo(214, rows[0]); ctx.lineTo(268, rows[0]); ctx.stroke()
    ctx.beginPath(); ctx.arc(241, rows[0], 6.5, 0, Math.PI * 2); ctx.fillStyle = '#fff'; ctx.fill(); ctx.lineWidth = 2; ctx.stroke()
    ctx.fillStyle = '#ff0000'; ctx.beginPath(); ctx.arc(241, rows[1], 5, 0, Math.PI * 2); ctx.fill()
    ctx.fillStyle = '#9999ff'; ctx.beginPath(); ctx.arc(241, rows[2], 5.3, 0, Math.PI * 2); ctx.fill()
    ctx.fillStyle = '#000'
    seriesNames.forEach((n, i) => ctx.fillText(n, 272, rows[i] + 1))
    ctx.restore()
  }
}

new Chart(document.getElementById('chart'), {
  type: 'scatter',
  data: {
    datasets: [
      {label: seriesNames[0], data: pts(corrected), showLine: true, spanGaps: false, borderColor: '#000', borderWidth: 3,
        pointRadius: 6.5, pointBackgroundColor: '#fff', pointBorderColor: '#000', pointBorderWidth: 2, order: 6},
      {label: 'dense', data: pts(correctedDense), showLine: true, borderColor: '#000', borderWidth: 16, tension: 0.3,
        borderCapStyle: 'round', borderJoinStyle: 'round', pointRadius: 0, order: 7},
      {label: seriesNames[1], data: pts(derivDrawdown), backgroundColor: '#ff0000', pointRadius: 5, pointBorderWidth: 0, order: 4},
      {label: seriesNames[2], data: pts(derivRecovery), backgroundColor: '#0000ff', pointRadius: 5.3, pointBorderWidth: 0,
        layerAlpha: 0.4, order: 3},
      {label: 'fit', data: pts(fitCurve), showLine: true, borderColor: '#000', borderWidth: 5, pointRadius: 0, order: 2},
      {label: 'slope half', data: pts(slopeHalf), showLine: true, borderColor: '#000', borderWidth: 3, pointRadius: 0, order: 1},
      {label: 'slope unit', data: pts(slopeUnit), showLine: true, borderColor: '#000', borderWidth: 3, pointRadius: 0, order: 1}
    ]
  },
  options: {
    responsive: false, animation: false, devicePixelRatio: 1,
    layout: {padding: {left: 0, top: 51.7, right: 159.5, bottom: 0}},
    plugins: {legend: {display: false}, tooltip: {enabled: false}},
    scales: {
      x: {
        type: 'logarithmic', min: 0.01, max: 10000,
        afterBuildTicks: s => { s.ticks = xTicks.map(v => ({value: v, major: xMajor.includes(v)})) },
        afterFit: s => { s.height = 120 },
        ticks: {autoSkip: false, maxRotation: 0, minRotation: 0, padding: 14, color: '#000', font: {family: FONT, size: 23},
          callback: v => { const i = xMajor.indexOf(v); return i < 0 ? '' : xMajorLabels[i] }},
        grid: {color: c => isMajor(c) ? '#bdbdbd' : '#a6a6a6', lineWidth: c => isMajor(c) ? 1.5 : 1.3, tickLength: 8, tickWidth: 2,
          tickColor: c => isMajor(c) ? '#000' : 'rgba(0,0,0,0)'},
        border: {display: false, dash: c => isMajor(c) ? [] : [5, 3]},
        title: {display: true, text: 'Elapsed pumping time (minutes)', color: '#000',
          font: {family: FONT, size: 26, weight: 'bold'}, padding: {top: 0, bottom: 17}}
      },
      y: {
        type: 'logarithmic', min: 0.01, max: 100,
        afterBuildTicks: s => { s.ticks = yMajor.map(v => ({value: v, major: true})) },
        afterFit: s => { s.width = 166.5 },
        ticks: {autoSkip: false, padding: 17, color: '#000', font: {family: FONT, size: 23},
          callback: v => { const i = yMajor.indexOf(v); return i < 0 ? '' : yMajorLabels[i] }},
        grid: {color: '#bdbdbd', lineWidth: 1.5, tickLength: 8, tickWidth: 2, tickColor: '#000'},
        border: {display: false},
        title: {display: true, text: 'Drawdown (feet)', color: '#000',
          font: {family: FONT, size: 26, weight: 'bold'}, padding: {top: 33, bottom: 0}}
      }
    }
  },
  plugins: [frame, groupAlpha]
})
</script>
</body>
</html>
